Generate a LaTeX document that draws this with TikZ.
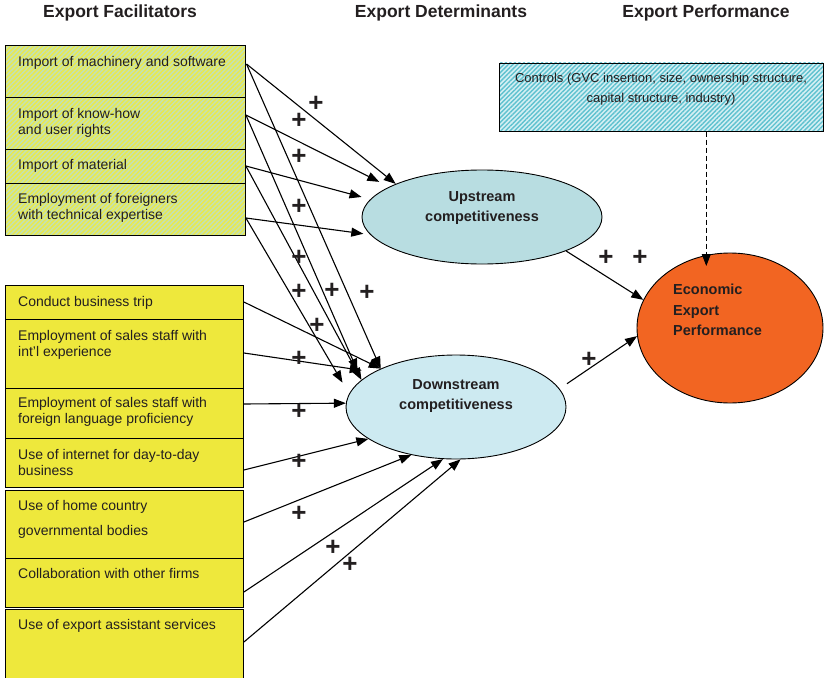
\documentclass[tikz,border=0pt]{standalone}
\usepackage{fontspec}
\setmainfont{Liberation Sans}
\usepackage{tikz}
\usetikzlibrary{shapes, arrows.meta}
\usetikzlibrary{positioning, patterns.meta}

\definecolor{facgreen}{HTML}{C3E2B4}
\definecolor{facstripe}{HTML}{E9E94E}
\definecolor{facyellow}{HTML}{EEE83C}
\definecolor{ctrlbase}{HTML}{D4EFF3}
\definecolor{ctrlstripe}{HTML}{5EC1CF}
\definecolor{upblue}{HTML}{B8DDE1}
\definecolor{dnblue}{HTML}{CDEAF1}
\definecolor{econorange}{HTML}{F26522}
\definecolor{inkgray}{HTML}{231F20}

\tikzstyle{hatchbox} = [
  rectangle, anchor = north west, draw = black, line width = 0.9pt,
  preaction = {fill = facgreen},
  pattern = {Lines[angle = 45, distance = 3.2pt, line width = 1.5pt]},
  pattern color = facstripe,
  minimum width = 240, inner sep = 0
]
\tikzstyle{yelbox} = [rectangle, anchor = north west, draw = black,
  line width = 0.9pt, fill = facyellow, minimum width = 238, inner sep = 0]
\tikzstyle{ctrlbox} = [
  rectangle, draw = black, line width = 0.9pt,
  preaction = {fill = ctrlbase},
  pattern = {Lines[angle = 45, distance = 3.2pt, line width = 1.4pt]},
  pattern color = ctrlstripe,
  minimum width = 324, minimum height = 68, inner sep = 0
]
\tikzstyle{ftext} = [anchor = north west, align = left, inner sep = 0,
  text = inkgray, font = \fontsize{14}{16}\selectfont]
\tikzstyle{ctext} = [align = center, inner sep = 0, text = inkgray,
  font = \fontsize{13}{20}\selectfont]
\tikzstyle{head} = [inner sep = 0, text = inkgray,
  font = \fontsize{17.5}{20}\selectfont\bfseries]
\tikzstyle{etext} = [align = center, inner sep = 0, text = inkgray,
  font = \fontsize{14.5}{20.5}\selectfont\bfseries]
\tikzstyle{blob} = [ellipse, draw = black, line width = 0.9pt, inner sep = 0]
\tikzstyle{plussign} = [inner sep = 0, text = inkgray,
  font = \fontsize{26}{26}\selectfont\bfseries]
\tikzstyle{link} = [->, line width = 1.1pt]

\begin{document}
\begin{tikzpicture}[x = 1pt, y = -1pt, >={Triangle[length = 12pt, width = 9pt]}]
  \useasboundingbox (0, 0) rectangle (824, 677);

  % column headings
  \node [head] (h-fac) at (120, 13) {Export Facilitators};
  \node [head] (h-det) at (441, 13) {Export Determinants};
  \node [head] (h-perf) at (706, 13) {Export Performance};

  % import related facilitators
  \node [hatchbox, minimum height = 52] (b-mach) at (5, 45) {};
  \node [hatchbox, minimum height = 52] (b-know) at (5, 97) {};
  \node [hatchbox, minimum height = 34] (b-mat) at (5, 149) {};
  \node [hatchbox, minimum height = 52] (b-tech) at (5, 183) {};
  \node [ftext] (t-mach) at ([xshift = 13, yshift = -11]b-mach.north west)
    {Import of machinery and software};
  \node [ftext] (t-know) at ([xshift = 13, yshift = -11]b-know.north west)
    {Import of know-how\\and user rights};
  \node [ftext] (t-mat) at ([xshift = 13, yshift = -10]b-mat.north west)
    {Import of material};
  \node [ftext] (t-tech) at ([xshift = 13, yshift = -10]b-tech.north west)
    {Employment of foreigners\\with technical expertise};

  % export related facilitators
  \node [yelbox, minimum height = 34] (b-trip) at (5, 285) {};
  \node [yelbox, minimum height = 69] (b-intl) at (5, 319) {};
  \node [yelbox, minimum height = 50] (b-lang) at (5, 388) {};
  \node [yelbox, minimum height = 49] (b-web) at (5, 438) {};
  \node [yelbox, minimum height = 68] (b-gov) at (5, 490) {};
  \node [yelbox, minimum height = 49] (b-collab) at (5, 558) {};
  \node [yelbox, minimum height = 70] (b-assist) at (5, 609) {};
  \node [ftext] (t-trip) at ([xshift = 13, yshift = -11]b-trip.north west)
    {Conduct business trip};
  \node [ftext] (t-intl) at ([xshift = 13, yshift = -11]b-intl.north west)
    {Employment of sales staff with\\int’l experience};
  \node [ftext] (t-lang) at ([xshift = 13, yshift = -9]b-lang.north west)
    {Employment of sales staff with\\foreign language proficiency};
  \node [ftext] (t-web) at ([xshift = 13, yshift = -11]b-web.north west)
    {Use of internet for day-to-day\\business};
  \node [ftext] (t-gov) at ([xshift = 13, yshift = -10]b-gov.north west)
    {Use of home country\\[9pt]governmental bodies};
  \node [ftext] (t-collab) at ([xshift = 13, yshift = -10]b-collab.north west)
    {Collaboration with other firms};
  \node [ftext] (t-assist) at ([xshift = 13, yshift = -10]b-assist.north west)
    {Use of export assistant services};

  % controls
  \node [ctrlbox] (ctrl) at (661, 97) {};
  \node [ctext] (t-ctrl) at (661, 89)
    {Controls (GVC insertion, size, ownership structure,\\capital structure, industry)};

  % determinants and performance
  \node [blob, fill = upblue, minimum width = 240, minimum height = 94] (up) at (482, 217) {};
  \node [blob, fill = dnblue, minimum width = 220, minimum height = 104] (dn) at (456, 407) {};
  \node [blob, fill = econorange, minimum width = 186, minimum height = 150] (econ) at (730, 328) {};
  \node [etext] (t-up) at (482, 208) {Upstream\\competitiveness};
  \node [etext] (t-dn) at (456, 396) {Downstream\\competitiveness};
  \node [etext, align = left, anchor = west] (t-econ) at (673, 310)
    {Economic\\Export\\Performance};

  % facilitators -> upstream
  \draw [link] ([yshift = -19]b-mach.north east) -- (up.159);
  \draw [link, shorten >= 11pt] ([yshift = -18]b-know.north east) -- (up.162);
  \draw [link, shorten >= 9pt] ([yshift = -17]b-mat.north east) -- (up.171);
  \draw [link, shorten >= 7pt] ([yshift = -35]b-tech.north east) -- (up.189);

  % facilitators -> downstream
  \draw [link] ([yshift = -19]b-mach.north east) -- (dn.153);
  \draw [link, shorten >= 10pt] ([yshift = -18]b-know.north east) -- (dn.164);
  \draw [link] ([yshift = -17]b-mat.north east) -- (dn.164);
  \draw [link, shorten >= 13pt] ([yshift = -35]b-tech.north east) -- (dn.173);
  \draw [link] ([yshift = -17]b-trip.north east) -- (dn.153);
  \draw [link, shorten >= 12pt] ([yshift = -34]b-intl.north east) -- (dn.157);
  \draw [link] ([yshift = -16]b-lang.north east) -- (dn.178);
  \draw [link] ([yshift = -32]b-web.north east) -- (dn.200);
  \draw [link] ([yshift = -32]b-gov.north east) -- (dn.227);
  \draw [link] ([yshift = -34]b-collab.north east) -- (dn.256);
  \draw [link] ([yshift = -33]b-assist.north east) -- (dn.275);

  % determinants -> performance
  \draw [link] (up.338) -- (econ.162);
  \draw [link, shorten <= 9pt] (dn.10) -- (econ.185);
  \draw [link, line width = 0.9pt, dash pattern = on 5pt off 3pt, shorten >= -11pt]
    (ctrl.south -| econ.108) -- (econ.108);

  % signs
  \foreach \px/\py [count = \n] in {316/104, 299/121, 299/157, 299/207, 299/258,
      299/292, 332/291, 367/293, 317/326, 299/359, 299/412, 299/462, 299/514,
      333/548, 350/565, 606/258, 640/258, 589/360}
    \node [plussign] (plus-\n) at (\px, \py) {+};
\end{tikzpicture}
\end{document}
